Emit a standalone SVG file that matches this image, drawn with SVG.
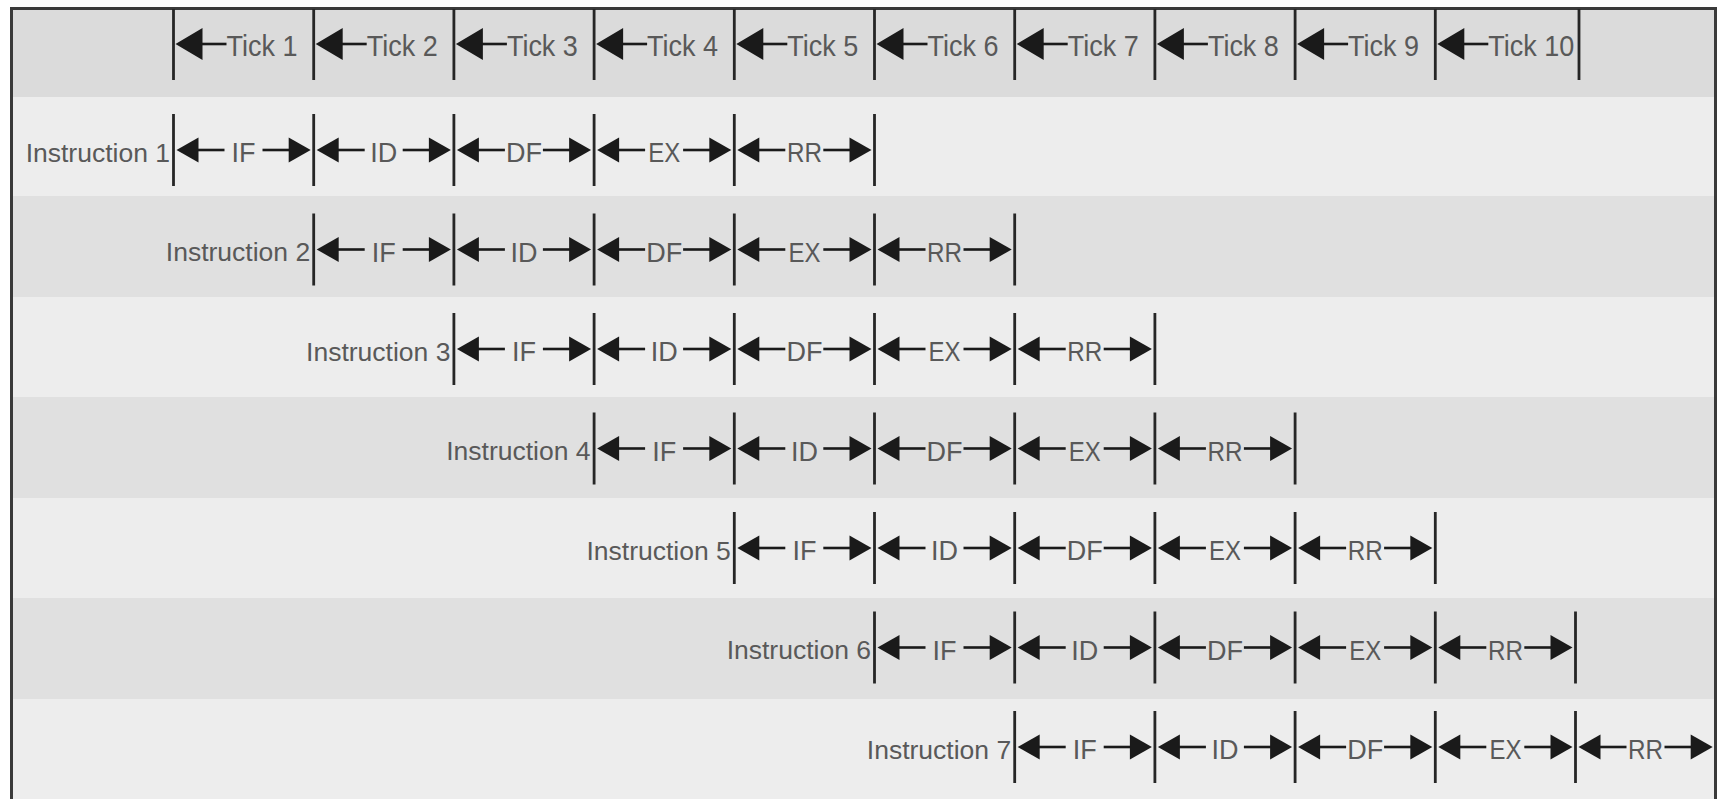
<svg xmlns="http://www.w3.org/2000/svg" xmlns:xlink="http://www.w3.org/1999/xlink" width="1722" height="799" viewBox="0 0 1722 799">
<style>
.lbl{font-family:"Liberation Sans",Arial,sans-serif;font-size:26.5px;fill:#595959;text-anchor:end}
.stg{font-family:"Liberation Sans",Arial,sans-serif;font-size:27px;fill:#595959;text-anchor:middle}
.tick{font-family:"Liberation Sans",Arial,sans-serif;font-size:30px;fill:#595959}
.vl{stroke:#262626;stroke-width:2.8;fill:none}
.sh{stroke:#1a1a1a;stroke-width:2.6}
.ah{fill:#1a1a1a}
.lt{fill:#ededed}
.dk{fill:#e0e0e0}
</style>
<defs>
<g id="cell">
<polygon class="ah" points="3,0 25,-12.5 25,12.5"/>
<polygon class="ah" points="137.2,0 115.2,-12.5 115.2,12.5"/>
<line class="sh" x1="24" y1="0" x2="51" y2="0"/>
<line class="sh" x1="89" y1="0" x2="116.2" y2="0"/>
</g>
<g id="tcell">
<polygon class="ah" points="2,0 29,-16 29,16"/>
<line class="sh" x1="28" y1="0" x2="53" y2="0"/>
</g>
</defs>
<g id="background">
<rect x="0" y="0" width="1722" height="799" fill="#ffffff"/>
<rect x="11" y="8" width="1705" height="89" fill="#dbdbdb"/>
<rect class="lt" x="11" y="97" width="1705" height="99"/>
<rect class="dk" x="11" y="196" width="1705" height="101"/>
<rect class="lt" x="11" y="297" width="1705" height="100"/>
<rect class="dk" x="11" y="397" width="1705" height="101"/>
<rect class="lt" x="11" y="498" width="1705" height="100"/>
<rect class="dk" x="11" y="598" width="1705" height="101"/>
<rect class="lt" x="11" y="699" width="1705" height="100"/>
<path d="M11.5 799 V8.5 H1715.5 V799" fill="none" stroke="#3a3a3a" stroke-width="3"/>
</g>
<g id="header">
<path class="vl" d="M173.5 9 V80 M313.7 9 V80 M453.9 9 V80 M594.1 9 V80 M734.3 9 V80 M874.5 9 V80 M1014.7 9 V80 M1154.9 9 V80 M1295.1 9 V80 M1435.3 9 V80 M1579 9 V80"/>
<use xlink:href="#tcell" x="173.5" y="44"/>
<use xlink:href="#tcell" x="313.7" y="44"/>
<use xlink:href="#tcell" x="453.9" y="44"/>
<use xlink:href="#tcell" x="594.1" y="44"/>
<use xlink:href="#tcell" x="734.3" y="44"/>
<use xlink:href="#tcell" x="874.5" y="44"/>
<use xlink:href="#tcell" x="1014.7" y="44"/>
<use xlink:href="#tcell" x="1154.9" y="44"/>
<use xlink:href="#tcell" x="1295.1" y="44"/>
<use xlink:href="#tcell" x="1435.3" y="44"/>
<text class="tick" x="226.5" y="55.7" textLength="71" lengthAdjust="spacingAndGlyphs">Tick 1</text>
<text class="tick" x="366.7" y="55.7" textLength="71" lengthAdjust="spacingAndGlyphs">Tick 2</text>
<text class="tick" x="506.9" y="55.7" textLength="71" lengthAdjust="spacingAndGlyphs">Tick 3</text>
<text class="tick" x="647.1" y="55.7" textLength="71" lengthAdjust="spacingAndGlyphs">Tick 4</text>
<text class="tick" x="787.3" y="55.7" textLength="71" lengthAdjust="spacingAndGlyphs">Tick 5</text>
<text class="tick" x="927.5" y="55.7" textLength="71" lengthAdjust="spacingAndGlyphs">Tick 6</text>
<text class="tick" x="1067.7" y="55.7" textLength="71" lengthAdjust="spacingAndGlyphs">Tick 7</text>
<text class="tick" x="1207.9" y="55.7" textLength="71" lengthAdjust="spacingAndGlyphs">Tick 8</text>
<text class="tick" x="1348.1" y="55.7" textLength="71" lengthAdjust="spacingAndGlyphs">Tick 9</text>
<text class="tick" x="1488.3" y="55.7" textLength="86" lengthAdjust="spacingAndGlyphs">Tick 10</text>
</g>
<g id="connectors">
<path class="vl" d="M173.5 114 V186 M313.7 114 V186 M453.9 114 V186 M594.1 114 V186 M734.3 114 V186 M874.5 114 V186"/>
<use xlink:href="#cell" x="173.5" y="150"/><use xlink:href="#cell" x="313.7" y="150"/><use xlink:href="#cell" x="453.9" y="150"/><use xlink:href="#cell" x="594.1" y="150"/><use xlink:href="#cell" x="734.3" y="150"/>
<path class="vl" d="M313.7 213.5 V285.5 M453.9 213.5 V285.5 M594.1 213.5 V285.5 M734.3 213.5 V285.5 M874.5 213.5 V285.5 M1014.7 213.5 V285.5"/>
<use xlink:href="#cell" x="313.7" y="249.5"/><use xlink:href="#cell" x="453.9" y="249.5"/><use xlink:href="#cell" x="594.1" y="249.5"/><use xlink:href="#cell" x="734.3" y="249.5"/><use xlink:href="#cell" x="874.5" y="249.5"/>
<path class="vl" d="M453.9 313 V385 M594.1 313 V385 M734.3 313 V385 M874.5 313 V385 M1014.7 313 V385 M1154.9 313 V385"/>
<use xlink:href="#cell" x="453.9" y="349"/><use xlink:href="#cell" x="594.1" y="349"/><use xlink:href="#cell" x="734.3" y="349"/><use xlink:href="#cell" x="874.5" y="349"/><use xlink:href="#cell" x="1014.7" y="349"/>
<path class="vl" d="M594.1 412.5 V484.5 M734.3 412.5 V484.5 M874.5 412.5 V484.5 M1014.7 412.5 V484.5 M1154.9 412.5 V484.5 M1295.1 412.5 V484.5"/>
<use xlink:href="#cell" x="594.1" y="448.5"/><use xlink:href="#cell" x="734.3" y="448.5"/><use xlink:href="#cell" x="874.5" y="448.5"/><use xlink:href="#cell" x="1014.7" y="448.5"/><use xlink:href="#cell" x="1154.9" y="448.5"/>
<path class="vl" d="M734.3 512 V584 M874.5 512 V584 M1014.7 512 V584 M1154.9 512 V584 M1295.1 512 V584 M1435.3 512 V584"/>
<use xlink:href="#cell" x="734.3" y="548"/><use xlink:href="#cell" x="874.5" y="548"/><use xlink:href="#cell" x="1014.7" y="548"/><use xlink:href="#cell" x="1154.9" y="548"/><use xlink:href="#cell" x="1295.1" y="548"/>
<path class="vl" d="M874.5 611.5 V683.5 M1014.7 611.5 V683.5 M1154.9 611.5 V683.5 M1295.1 611.5 V683.5 M1435.3 611.5 V683.5 M1575.5 611.5 V683.5"/>
<use xlink:href="#cell" x="874.5" y="647.5"/><use xlink:href="#cell" x="1014.7" y="647.5"/><use xlink:href="#cell" x="1154.9" y="647.5"/><use xlink:href="#cell" x="1295.1" y="647.5"/><use xlink:href="#cell" x="1435.3" y="647.5"/>
<path class="vl" d="M1014.7 711 V783 M1154.9 711 V783 M1295.1 711 V783 M1435.3 711 V783 M1575.5 711 V783"/>
<use xlink:href="#cell" x="1014.7" y="747"/><use xlink:href="#cell" x="1154.9" y="747"/><use xlink:href="#cell" x="1295.1" y="747"/><use xlink:href="#cell" x="1435.3" y="747"/><use xlink:href="#cell" x="1575.5" y="747"/>
</g>
<g id="instruction1">
<text class="lbl" x="170" y="161.8">Instruction 1</text>
<text class="stg" x="243.6" y="162">IF</text><text class="stg" x="383.8" y="162">ID</text><text class="stg" x="524" y="162">DF</text><text class="stg" x="664.2" y="162" textLength="32" lengthAdjust="spacingAndGlyphs">EX</text><text class="stg" x="804.4" y="162" textLength="35" lengthAdjust="spacingAndGlyphs">RR</text>
</g>
<g id="instruction2">
<text class="lbl" x="310.2" y="261.3">Instruction 2</text>
<text class="stg" x="383.8" y="261.5">IF</text><text class="stg" x="524" y="261.5">ID</text><text class="stg" x="664.2" y="261.5">DF</text><text class="stg" x="804.4" y="261.5" textLength="32" lengthAdjust="spacingAndGlyphs">EX</text><text class="stg" x="944.6" y="261.5" textLength="35" lengthAdjust="spacingAndGlyphs">RR</text>
</g>
<g id="instruction3">
<text class="lbl" x="450.4" y="360.8">Instruction 3</text>
<text class="stg" x="524" y="361">IF</text><text class="stg" x="664.2" y="361">ID</text><text class="stg" x="804.4" y="361">DF</text><text class="stg" x="944.6" y="361" textLength="32" lengthAdjust="spacingAndGlyphs">EX</text><text class="stg" x="1084.8" y="361" textLength="35" lengthAdjust="spacingAndGlyphs">RR</text>
</g>
<g id="instruction4">
<text class="lbl" x="590.6" y="460.3">Instruction 4</text>
<text class="stg" x="664.2" y="460.5">IF</text><text class="stg" x="804.4" y="460.5">ID</text><text class="stg" x="944.6" y="460.5">DF</text><text class="stg" x="1084.8" y="460.5" textLength="32" lengthAdjust="spacingAndGlyphs">EX</text><text class="stg" x="1225" y="460.5" textLength="35" lengthAdjust="spacingAndGlyphs">RR</text>
</g>
<g id="instruction5">
<text class="lbl" x="730.8" y="559.8">Instruction 5</text>
<text class="stg" x="804.4" y="560">IF</text><text class="stg" x="944.6" y="560">ID</text><text class="stg" x="1084.8" y="560">DF</text><text class="stg" x="1225" y="560" textLength="32" lengthAdjust="spacingAndGlyphs">EX</text><text class="stg" x="1365.2" y="560" textLength="35" lengthAdjust="spacingAndGlyphs">RR</text>
</g>
<g id="instruction6">
<text class="lbl" x="871" y="659.3">Instruction 6</text>
<text class="stg" x="944.6" y="659.5">IF</text><text class="stg" x="1084.8" y="659.5">ID</text><text class="stg" x="1225" y="659.5">DF</text><text class="stg" x="1365.2" y="659.5" textLength="32" lengthAdjust="spacingAndGlyphs">EX</text><text class="stg" x="1505.4" y="659.5" textLength="35" lengthAdjust="spacingAndGlyphs">RR</text>
</g>
<g id="instruction7">
<text class="lbl" x="1011.2" y="758.8">Instruction 7</text>
<text class="stg" x="1084.8" y="759">IF</text><text class="stg" x="1225" y="759">ID</text><text class="stg" x="1365.2" y="759">DF</text><text class="stg" x="1505.4" y="759" textLength="32" lengthAdjust="spacingAndGlyphs">EX</text><text class="stg" x="1645.6" y="759" textLength="35" lengthAdjust="spacingAndGlyphs">RR</text>
</g>
</svg>
